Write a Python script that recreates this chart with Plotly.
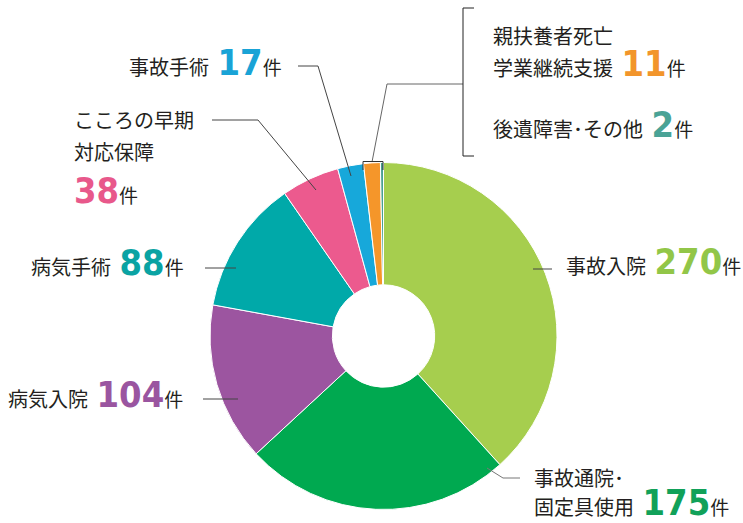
import plotly.graph_objects as go

W, H = 743, 523

# ---- data ----
categories = ["事故入院", "事故通院・固定具使用", "病気入院", "病気手術",
              "こころの早期対応保障", "事故手術", "親扶養者死亡学業継続支援", "後遺障害・その他"]
counts = [270, 175, 104, 88, 38, 17, 11, 2]
slice_colors = ["#a6ce4e", "#00a950", "#9c55a0", "#00a9a9",
                "#ec5a8e", "#17a8da", "#f5962a", "#4a9e92"]
number_colors = ["#92c648", "#11a159", "#9a55a0", "#0aa3a3",
                 "#e8588b", "#19a3d6", "#f2952b", "#4aa396"]

def px(x):
    return x / W

def py(y):
    return 1 - y / H

fig = go.Figure()
fig.add_trace(go.Pie(
    labels=categories, values=counts, sort=False, direction="clockwise",
    rotation=0, hole=0.295, textinfo="none", hoverinfo="label+value",
    marker=dict(colors=slice_colors, line=dict(color="white", width=1)),
    domain=dict(x=[px(210), px(557)], y=[py(509.5), py(162.5)]),
    showlegend=False,
))

JP = "Noto Sans CJK JP"
NUMF = "DejaVu Sans Condensed"
TXT = "#231f20"

def num(v, i, lead=True):
    sp = f"<span style='font-family:{NUMF};font-size:30px'>\u00a0</span>" if lead else ""
    return (f"{sp}<span style='font-family:{NUMF};font-size:36px;font-weight:bold;"
            f"color:{number_colors[i]}'>{v}</span>")

def ken():
    return "<span style='font-size:19px'>件</span>"

annos = []

def label(x, baseline, text, has_num=True):
    off = 9 if has_num else 6
    annos.append(dict(x=px(x), y=py(baseline + off), xref="paper", yref="paper",
                      xanchor="left", yanchor="bottom", showarrow=False,
                      text=text, font=dict(family=JP, size=20, color=TXT),
                      borderpad=0))

label(565, 274, f"{categories[0]}{num(counts[0], 0)}{ken()}")
label(533, 487, "事故通院･", has_num=False)
label(533, 515, f"固定具使用{num(counts[1], 1)}{ken()}")
label(7, 407, f"{categories[2]}{num(counts[2], 2)}{ken()}")
label(30, 275, f"{categories[3]}{num(counts[3], 3)}{ken()}")
label(73, 129, "こころの早期", has_num=False)
label(73, 161, "対応保障", has_num=False)
label(73, 203, f"{num(counts[4], 4, lead=False)}{ken()}")
label(128, 75, f"{categories[5]}{num(counts[5], 5)}{ken()}")
label(492, 45, "親扶養者死亡", has_num=False)
label(492, 76, f"学業継続支援{num(counts[6], 6)}{ken()}")
label(492, 137, f"後遺障害･その他{num(counts[7], 7)}{ken()}")

shapes = []
LC = "#444"

def path(points, color=LC):
    d = "M " + " L ".join(f"{px(x)} {py(y)}" for x, y in points)
    shapes.append(dict(type="path", path=d, xref="paper", yref="paper",
                       line=dict(color=color, width=1)))

path([(298, 66), (318, 66), (351, 176)])
path([(212, 120), (258, 120), (316, 190)])
path([(205, 268), (236, 268)])
path([(203, 399), (238, 399)])
path([(533, 269), (552, 269)])
path([(487, 468), (503, 478), (520, 478)], color="#777")
path([(372, 162), (387, 84), (463, 84)], color="#666")
path([(474, 8), (463, 8), (463, 156), (474, 156)], color="#222")
path([(363, 170), (363, 161.5), (383, 161.5), (383, 170)], color="#333")

fig.update_layout(
    width=W, height=H, margin=dict(l=0, r=0, t=0, b=0),
    paper_bgcolor="white", plot_bgcolor="white",
    annotations=annos, shapes=shapes,
)

fig.write_html("out.html")
